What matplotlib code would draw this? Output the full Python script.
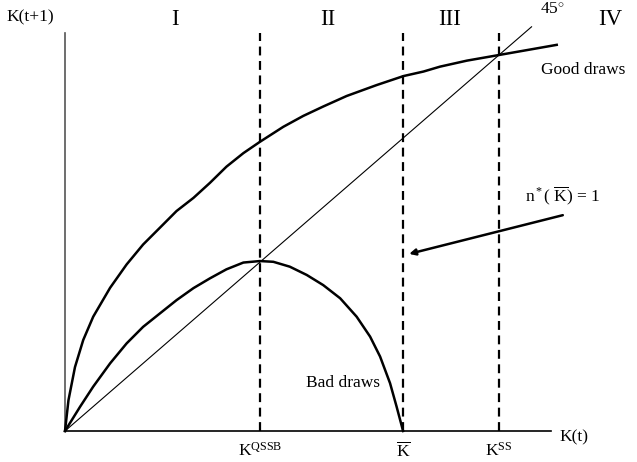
import matplotlib
matplotlib.use('Agg')
import matplotlib.pyplot as plt

plt.rcParams['font.family'] = 'Liberation Serif'
plt.rcParams['mathtext.fontset'] = 'custom'
plt.rcParams['mathtext.rm'] = 'Liberation Serif'
plt.rcParams['mathtext.it'] = 'Liberation Serif:italic'

# capital stock positions (K_SS = 10)
k_qssb = 4.49
k_bar = 7.79
k_ss = 10.0
x_max = 11.2
y_max = 10.58

# good draws curve
good_x = [0.0, 0.08, 0.23, 0.42, 0.65, 1.04, 1.42, 1.80, 2.19, 2.57, 2.96, 3.34,
          3.72, 4.11, 4.49, 5.03, 5.49, 5.95, 6.49, 7.18, 7.80, 8.26, 8.64,
          9.26, 10.0, 10.79, 11.33]
good_y = [0.0, 0.82, 1.70, 2.42, 3.04, 3.81, 4.43, 4.96, 5.41, 5.85, 6.20, 6.60,
          7.03, 7.39, 7.69, 8.09, 8.38, 8.63, 8.91, 9.20, 9.44, 9.56, 9.69,
          9.85, 10.0, 10.16, 10.27]

# bad draws curve
bad_x = [0.0, 0.35, 0.65, 1.04, 1.42, 1.80, 2.19, 2.57, 2.96, 3.34, 3.72, 4.11,
         4.49, 4.80, 5.18, 5.57, 5.95, 6.34, 6.72, 7.03, 7.26, 7.49, 7.64, 7.79]
bad_y = [0.0, 0.65, 1.18, 1.80, 2.33, 2.77, 3.13, 3.48, 3.80, 4.06, 4.30, 4.48,
         4.52, 4.50, 4.37, 4.15, 3.88, 3.53, 3.04, 2.51, 1.98, 1.27, 0.65, 0.0]

fig = plt.figure(figsize=(6.37, 4.62), dpi=100)
ax = fig.add_axes([0, 0, 1, 1])
ax.set_xlim(-65 / 43.4, 572 / 43.4)
ax.set_ylim(-31 / 37.6, 431 / 37.6)
ax.axis('off')

# axes
ax.plot([0, 0], [0, y_max], color='#555555', lw=1.2)
ax.plot([0, x_max], [0, 0], color='black', lw=1.2)

# 45 degree line
ax.plot([0, 10.75], [0, 10.75], color='black', lw=0.8)

ax.plot(good_x, good_y, color='black', lw=1.8)
ax.plot(bad_x, bad_y, color='black', lw=1.8)

for k in [k_qssb, k_bar, k_ss]:
    ax.plot([k, k], [0, y_max], color='black', lw=1.6, ls=(0, (4, 2.5)))

ax.annotate('', xy=(7.93, 4.71), xytext=(11.47, 5.74),
            arrowprops=dict(arrowstyle='-|>', color='black', lw=1.8,
                            mutation_scale=9, shrinkA=0, shrinkB=0))

fs = 12.5
ax.text(-1.35, 11.0, 'K(t+1)', fontsize=fs, ha='left', va='center')
ax.text(10.95, 11.2, r'45$^{\circ}$', fontsize=fs, ha='left', va='center')
for lab, px in [('I', 175), ('II', 328), ('III', 450), ('IV', 610)]:
    ax.text((px - 65) / 43.4, (431 - 19) / 37.6, lab, fontsize=16.5,
            ha='center', va='center')
ax.text((583 - 65) / 43.4, (431 - 70) / 37.6, 'Good draws', fontsize=fs,
        ha='center', va='center')
ax.text((343 - 65) / 43.4, (431 - 383) / 37.6, 'Bad draws', fontsize=fs,
        ha='center', va='center')
ax.text((563 - 65) / 43.4, (431 - 196) / 37.6,
        r'n$^*$( $\overline{\mathrm{K}}$) = 1', fontsize=fs,
        ha='center', va='center')
ax.text((574 - 65) / 43.4, (431 - 437) / 37.6, 'K(t)', fontsize=fs,
        ha='center', va='center')
ax.text(k_qssb, (431 - 451) / 37.6, r'K$^{\mathrm{QSSB}}$', fontsize=fs,
        ha='center', va='center')
ax.text(k_bar, (431 - 451) / 37.6, r'$\overline{\mathrm{K}}$', fontsize=fs,
        ha='center', va='center')
ax.text(k_ss, (431 - 451) / 37.6, r'K$^{\mathrm{SS}}$', fontsize=fs,
        ha='center', va='center')

fig.savefig('out.png', dpi=100)
